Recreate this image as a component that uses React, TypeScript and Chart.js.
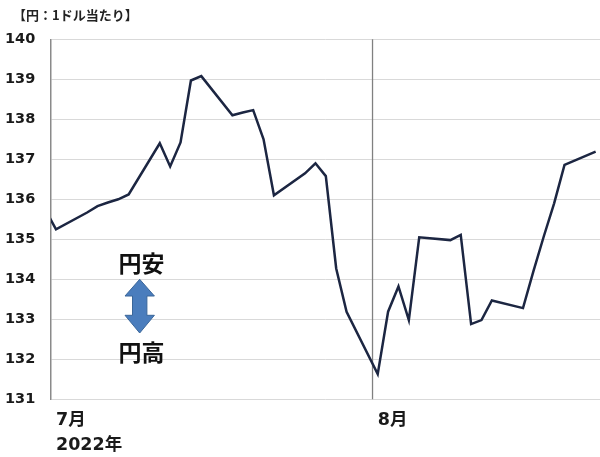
import React, { useEffect, useRef } from "react";
import { Chart, registerables } from "chart.js";

Chart.register(...registerables);

// Trading days (date axis: each calendar day is one slot)
const dates = [
  "2022-06-30",
  "2022-07-01", "2022-07-04", "2022-07-05", "2022-07-06", "2022-07-07", "2022-07-08",
  "2022-07-11", "2022-07-12", "2022-07-13", "2022-07-14", "2022-07-15",
  "2022-07-18", "2022-07-19", "2022-07-20", "2022-07-21", "2022-07-22",
  "2022-07-25", "2022-07-26", "2022-07-27", "2022-07-28", "2022-07-29",
  "2022-08-01", "2022-08-02", "2022-08-03", "2022-08-04", "2022-08-05",
  "2022-08-08", "2022-08-09", "2022-08-10", "2022-08-11", "2022-08-12",
  "2022-08-15", "2022-08-16", "2022-08-17", "2022-08-18", "2022-08-19",
  "2022-08-22",
];

// 円／ドル rate
const rates = [
  135.73,
  135.25, 135.67, 135.83, 135.92, 136.0, 136.12,
  137.4, 136.82, 137.42, 138.97, 139.08,
  138.1, 138.17, 138.23, 137.5, 136.1,
  136.65, 136.9, 136.58, 134.27, 133.19,
  131.63, 133.19, 133.82, 132.98, 135.05,
  134.98, 135.11, 132.88, 132.98, 133.47,
  133.28, 134.2, 135.07, 135.9, 136.86,
  137.19,
];

const monthTickDates = ["2022-07-01", "2022-08-01"];
const monthTickLabels = [["7月", "2022年"], ["8月"]];
const monthBoundaryDates = ["2022-08-01"];

const yMin = 131;
const yMax = 140;

const unitTitle = "【円：1ドル当たり】";
const weakYenLabel = "円安";
const strongYenLabel = "円高";

const START = Date.UTC(2022, 6, 1);
const dayIndex = (s: string) => (Date.parse(s + "T00:00:00Z") - START) / 86400000;

const latinFont = "'DejaVu Sans', 'Noto Sans CJK JP', sans-serif";
const cjkFont = "'Noto Sans CJK JP', 'DejaVu Sans', sans-serif";

const overlayPlugin = {
  id: "overlay",
  beforeDatasetsDraw(chart: any) {
    const { ctx, chartArea, scales } = chart;
    ctx.save();
    ctx.strokeStyle = "#808080";
    ctx.lineWidth = 1.3;
    monthBoundaryDates.forEach((d) => {
      const x = scales.x.getPixelForValue(dayIndex(d) - 0.5);
      ctx.beginPath();
      ctx.moveTo(x, chartArea.top);
      ctx.lineTo(x, chartArea.bottom);
      ctx.stroke();
    });
    ctx.restore();
  },
  afterDraw(chart: any) {
    const { ctx } = chart;
    ctx.save();
    // unit title
    ctx.fillStyle = "#222";
    ctx.font = `bold 13px ${cjkFont}`;
    ctx.textAlign = "left";
    ctx.textBaseline = "middle";
    ctx.fillText(unitTitle, 13, 15);

    // annotation texts
    ctx.font = `bold 23px ${cjkFont}`;
    ctx.textAlign = "center";
    ctx.fillStyle = "#111";
    ctx.fillText(weakYenLabel, 141.5, 263);
    ctx.fillText(strongYenLabel, 141.5, 352);

    // double arrow
    const cx = 139.7;
    const top = 279.3;
    const headBase1 = 296;
    const headBase2 = 315.3;
    const bottom = 333;
    const hw = 14.7;
    const sw = 7.2;
    ctx.beginPath();
    ctx.moveTo(cx, top);
    ctx.lineTo(cx + hw, headBase1);
    ctx.lineTo(cx + sw, headBase1);
    ctx.lineTo(cx + sw, headBase2);
    ctx.lineTo(cx + hw, headBase2);
    ctx.lineTo(cx, bottom);
    ctx.lineTo(cx - hw, headBase2);
    ctx.lineTo(cx - sw, headBase2);
    ctx.lineTo(cx - sw, headBase1);
    ctx.lineTo(cx - hw, headBase1);
    ctx.closePath();
    ctx.fillStyle = "#4a7dbd";
    ctx.fill();
    ctx.strokeStyle = "#3a6699";
    ctx.lineWidth = 1;
    ctx.stroke();
    ctx.restore();
  },
};

export default function App() {
  const canvasRef = useRef<HTMLCanvasElement | null>(null);

  useEffect(() => {
    if (!canvasRef.current) return;
    const points = dates.map((d, i) => ({ x: dayIndex(d), y: rates[i] }));
    const chart = new Chart(canvasRef.current, {
      type: "line",
      data: {
        datasets: [
          {
            data: points,
            borderColor: "#1c2642",
            borderWidth: 2.5,
            pointRadius: 0,
            tension: 0,
            clip: 0,
          } as any,
        ],
      },
      options: {
        animation: false,
        responsive: true,
        maintainAspectRatio: false,
        layout: { padding: { top: 39.3, left: 5, right: 0, bottom: 0 } },
        plugins: {
          legend: { display: false },
          tooltip: { enabled: false },
          title: { display: false },
        },
        scales: {
          x: {
            type: "linear",
            min: -0.482,
            max: 52.42,
            grid: { display: false, drawTicks: false },
            border: { display: false },
            afterBuildTicks: (scale: any) => {
              scale.ticks = monthTickDates.map((d) => ({ value: dayIndex(d) }));
            },
            afterFit: (scale: any) => {
              scale.height = 57.7;
            },
            ticks: {
              autoSkip: false,
              maxRotation: 0,
              minRotation: 0,
              align: "start",
              padding: 9,
              color: "#1a1a1a",
              font: { family: latinFont, size: 17.5, weight: "bold", lineHeight: 1.42 },
              callback: (value: any) => {
                const i = monthTickDates.findIndex((d) => dayIndex(d) === value);
                return i >= 0 ? monthTickLabels[i] : "";
              },
            },
          },
          y: {
            min: yMin,
            max: yMax,
            afterFit: (scale: any) => {
              scale.width = 46;
            },
            grid: { color: "#d9d9d9", lineWidth: 1, drawTicks: false },
            border: { display: true, color: "#8a8a8a", width: 1.5 },
            ticks: {
              stepSize: 1,
              crossAlign: "far",
              color: "#1a1a1a",
              font: { family: latinFont, size: 14.5, weight: "bold" },
            },
          },
        },
      } as any,
      plugins: [overlayPlugin],
    });
    return () => chart.destroy();
  }, []);

  return (
    <div style={{ position: "absolute", left: 0, top: 0, width: 600, height: 457, background: "#fff" }}>
      <canvas ref={canvasRef} />
    </div>
  );
}
